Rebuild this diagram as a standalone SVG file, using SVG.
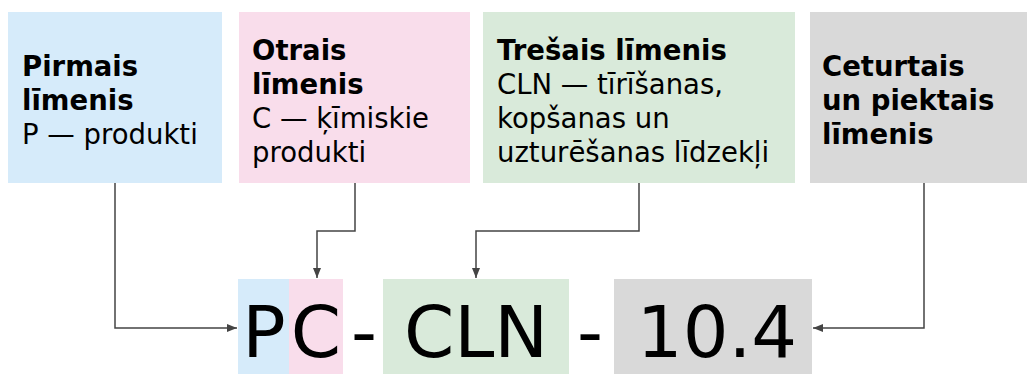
<svg xmlns="http://www.w3.org/2000/svg" width="1027" height="374" viewBox="0 0 1027 374">
<style>
.t{font-family:"DejaVu Sans",Verdana,sans-serif;font-size:27.5px;fill:#000}
.b{font-weight:bold}
.big{font-family:"DejaVu Sans",Verdana,sans-serif;font-size:72px;fill:#000;text-anchor:middle}
.blue{fill:#D6EBFA}.pink{fill:#F9DDEB}.green{fill:#D9EADA}.gray{fill:#D9D9D9}
.c{fill:none;stroke:#444;stroke-width:1.5}
</style>
<defs>
<marker id="ah" markerUnits="userSpaceOnUse" markerWidth="10" markerHeight="10" viewBox="0 0 10 10" refX="10" refY="5" orient="auto">
<path d="M0,1 L10,5 L0,9 Z" fill="#444"/>
</marker>
</defs>
<rect width="1027" height="374" fill="#fff"/>
<g id="box1">
<rect class="blue" x="8" y="12" width="214" height="171"/>
<text class="t" x="22"><tspan class="b" x="22" y="76">Pirmais</tspan><tspan class="b" x="22" y="110">līmenis</tspan><tspan x="22" y="144">P — produkti</tspan></text>
</g>
<g id="box2">
<rect class="pink" x="239" y="12" width="231" height="171"/>
<text class="t"><tspan class="b" x="252" y="60">Otrais</tspan><tspan class="b" x="252" y="94">līmenis</tspan><tspan x="252" y="128">C — ķīmiskie</tspan><tspan x="252" y="162">produkti</tspan></text>
</g>
<g id="box3">
<rect class="green" x="483" y="12" width="312" height="171"/>
<text class="t"><tspan class="b" x="497" y="60">Trešais līmenis</tspan><tspan x="497" y="94">CLN — tīrīšanas,</tspan><tspan x="497" y="128">kopšanas un</tspan><tspan x="497" y="162">uzturēšanas līdzekļi</tspan></text>
</g>
<g id="box4">
<rect class="gray" x="810" y="12" width="217" height="171"/>
<text class="t b"><tspan x="822" y="76">Ceturtais</tspan><tspan x="822" y="110">un piektais</tspan><tspan x="822" y="144">līmenis</tspan></text>
</g>
<g id="code">
<rect class="blue" x="238" y="279" width="51" height="95"/>
<rect class="pink" x="289" y="279" width="54" height="95"/>
<rect class="green" x="383" y="279" width="186" height="95"/>
<rect class="gray" x="614" y="279" width="198" height="95"/>
<text class="big" x="264" y="357">P</text>
<text class="big" x="316" y="357">C</text>
<text class="big" x="364" y="357">-</text>
<text class="big" x="476" y="357">CLN</text>
<text class="big" x="590" y="357">-</text>
<text class="big" x="717" y="357">10.4</text>
</g>
<g id="connectors">
<path class="c" d="M115,183 V328 H237" marker-end="url(#ah)"/>
<path class="c" d="M355,183 V231 H317 V278" marker-end="url(#ah)"/>
<path class="c" d="M639,183 V231 H476 V278" marker-end="url(#ah)"/>
<path class="c" d="M924,183 V328 H813" marker-end="url(#ah)"/>
</g>
</svg>
